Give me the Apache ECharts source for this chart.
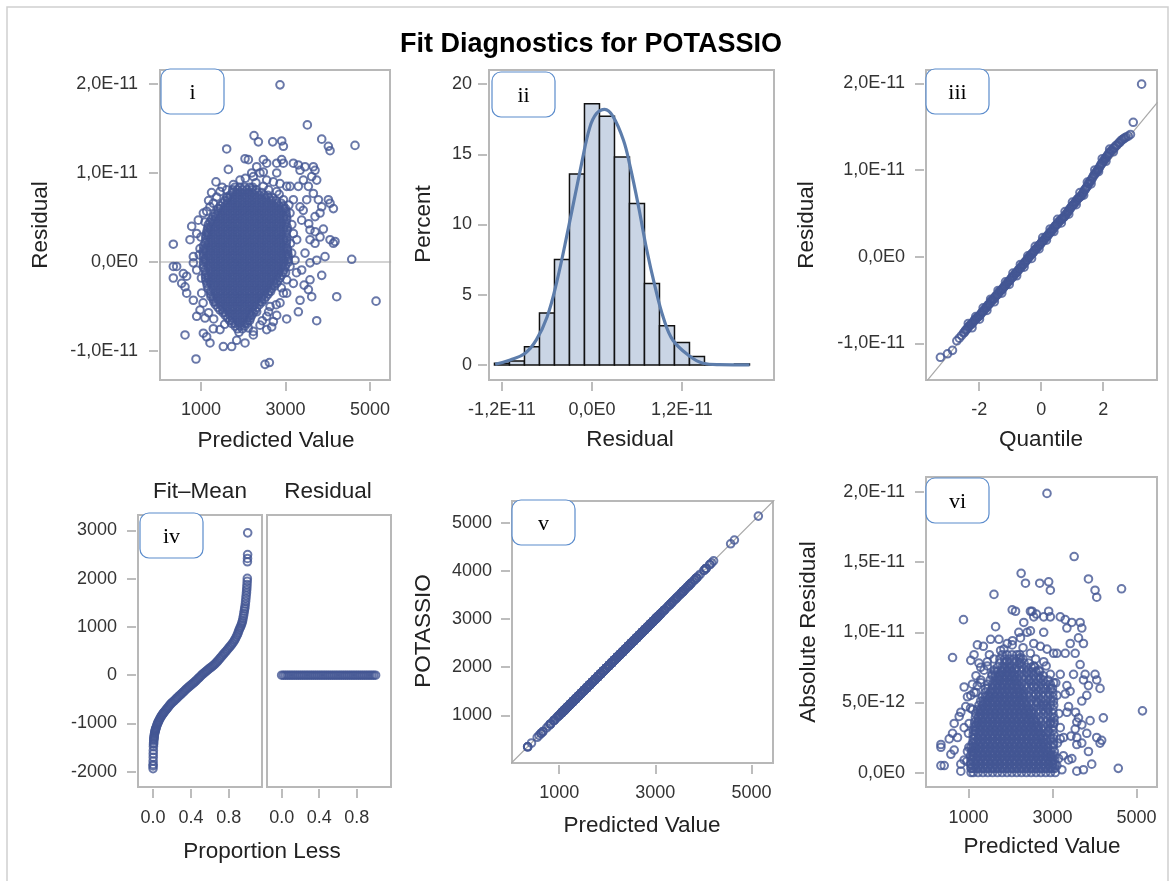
<!DOCTYPE html>
<html>
<head>
<meta charset="utf-8">
<script src="https://cdn.jsdelivr.net/npm/echarts@6/dist/echarts.min.js"></script>
<style>
html,body{margin:0;padding:0;background:#fff;}
#chart{width:1175px;height:881px;}
</style>
</head>
<body>
<div id="chart"></div>
<script>
// ---------------- DATA (residuals stored in units of 1E-12) ----------------
// Panel i: dense core rows (residual level -> predicted values)
const coreResidLevels = [8.4, 8.1, 7.8, 7.5, 7.2, 6.9, 6.6, 6.3, 6.0, 5.7, 5.4, 5.1, 4.8, 4.5, 4.2, 3.9, 3.6, 3.3,
  3.0, 2.7, 2.4, 2.1, 1.8, 1.5, 1.2, 0.9, 0.6, 0.3, 0.0, -0.3, -0.6, -0.9, -1.2, -1.5, -1.8, -2.1, -2.4, -2.7,
  -3.0, -3.3, -3.6, -3.9, -4.2, -4.5, -4.8, -5.1, -5.4, -5.7, -6.0, -6.3, -6.6, -6.9, -7.2, -7.5];
const corePredictedRows = [
  [1805, 1918, 2036, 2152, 2222],
  [1749, 1860, 1978, 2090, 2208, 2298],
  [1745, 1864, 1975, 2094, 2205, 2324, 2436],
  [1688, 1807, 1918, 2036, 2148, 2267, 2378, 2497, 2580],
  [1622, 1690, 1806, 1918, 2037, 2148, 2266, 2378, 2497, 2608, 2700],
  [1565, 1633, 1745, 1864, 1975, 2093, 2206, 2321, 2438, 2551, 2669, 2780],
  [1517, 1634, 1745, 1863, 1976, 2093, 2205, 2323, 2436, 2554, 2665, 2783, 2896],
  [1458, 1577, 1689, 1807, 1918, 2037, 2149, 2266, 2379, 2497, 2608, 2727, 2838, 2950],
  [1405, 1462, 1574, 1692, 1804, 1921, 2034, 2152, 2263, 2381, 2494, 2612, 2724, 2842, 2954, 3000],
  [1400, 1519, 1630, 1749, 1860, 1979, 2090, 2209, 2320, 2439, 2550, 2669, 2780, 2899, 3010],
  [1330, 1403, 1516, 1633, 1746, 1864, 1975, 2094, 2206, 2324, 2435, 2553, 2666, 2783, 2895, 3012],
  [1290, 1347, 1458, 1577, 1688, 1807, 1918, 2037, 2148, 2267, 2378, 2497, 2608, 2727, 2838, 2957, 3025],
  [1250, 1344, 1462, 1574, 1692, 1803, 1922, 2034, 2151, 2264, 2382, 2493, 2611, 2723, 2841, 2953, 3030],
  [1215, 1289, 1400, 1519, 1630, 1749, 1860, 1979, 2090, 2209, 2320, 2439, 2550, 2669, 2780, 2899, 3010],
  [1173, 1286, 1404, 1516, 1634, 1745, 1863, 1976, 2093, 2206, 2323, 2436, 2553, 2665, 2784, 2896, 3013],
  [1165, 1232, 1343, 1462, 1573, 1692, 1803, 1922, 2033, 2152, 2263, 2382, 2493, 2612, 2723, 2842, 2953, 3040],
  [1150, 1231, 1343, 1461, 1573, 1691, 1804, 1921, 2033, 2152, 2264, 2381, 2494, 2612, 2723, 2842, 2953, 3040],
  [1135, 1174, 1285, 1404, 1515, 1634, 1745, 1864, 1975, 2094, 2205, 2324, 2435, 2554, 2665, 2784, 2895, 3014],
  [1115, 1171, 1288, 1401, 1518, 1631, 1748, 1861, 1978, 2091, 2208, 2321, 2438, 2551, 2668, 2781, 2898, 3011],
  [1113, 1232, 1343, 1462, 1573, 1692, 1803, 1922, 2033, 2152, 2263, 2382, 2493, 2612, 2723, 2842, 2953, 3035],
  [1114, 1232, 1344, 1462, 1573, 1691, 1803, 1922, 2034, 2151, 2263, 2382, 2493, 2611, 2724, 2841, 2954, 3030],
  [1095, 1174, 1285, 1404, 1515, 1634, 1745, 1864, 1975, 2094, 2205, 2324, 2435, 2554, 2665, 2784, 2895, 3014],
  [1058, 1173, 1286, 1403, 1516, 1633, 1746, 1863, 1976, 2093, 2206, 2323, 2436, 2553, 2666, 2783, 2896, 3013],
  [1075, 1117, 1228, 1347, 1458, 1577, 1688, 1807, 1918, 2037, 2148, 2267, 2378, 2497, 2608, 2727, 2838, 2957, 3045],
  [1050, 1116, 1229, 1346, 1459, 1576, 1689, 1806, 1919, 2036, 2149, 2266, 2379, 2496, 2609, 2726, 2839, 2956, 3050],
  [1059, 1170, 1289, 1400, 1519, 1630, 1749, 1860, 1979, 2090, 2209, 2320, 2439, 2550, 2669, 2780, 2899, 3010, 3055],
  [1056, 1172, 1288, 1401, 1518, 1631, 1748, 1861, 1978, 2091, 2208, 2321, 2438, 2551, 2668, 2781, 2898, 3011, 3065],
  [1075, 1117, 1228, 1347, 1458, 1577, 1688, 1807, 1918, 2037, 2148, 2267, 2378, 2497, 2608, 2727, 2838, 2957, 3060],
  [1062, 1115, 1231, 1344, 1461, 1574, 1691, 1804, 1921, 2034, 2151, 2264, 2381, 2494, 2611, 2724, 2841, 2954, 3068],
  [1059, 1170, 1289, 1400, 1519, 1630, 1749, 1860, 1979, 2090, 2209, 2320, 2439, 2550, 2669, 2780, 2899, 3010],
  [1058, 1171, 1287, 1402, 1517, 1632, 1747, 1862, 1977, 2092, 2207, 2322, 2437, 2552, 2667, 2782, 2897, 2990],
  [1100, 1228, 1347, 1458, 1577, 1688, 1807, 1918, 2037, 2148, 2267, 2378, 2497, 2608, 2727, 2838, 2957],
  [1116, 1230, 1345, 1460, 1575, 1690, 1805, 1920, 2035, 2150, 2265, 2380, 2495, 2610, 2725, 2840, 2940],
  [1105, 1170, 1289, 1400, 1519, 1630, 1749, 1860, 1979, 2090, 2209, 2320, 2439, 2550, 2669, 2780, 2899],
  [1110, 1172, 1287, 1402, 1517, 1632, 1747, 1862, 1977, 2092, 2207, 2322, 2437, 2552, 2667, 2782, 2870],
  [1120, 1228, 1347, 1458, 1577, 1688, 1807, 1918, 2037, 2148, 2267, 2378, 2497, 2608, 2727, 2820],
  [1140, 1230, 1345, 1460, 1575, 1690, 1805, 1920, 2035, 2150, 2265, 2380, 2495, 2610, 2725, 2790],
  [1150, 1289, 1400, 1519, 1630, 1749, 1860, 1979, 2090, 2209, 2320, 2439, 2550, 2669, 2740],
  [1172, 1287, 1402, 1517, 1632, 1747, 1862, 1977, 2092, 2207, 2322, 2437, 2552, 2667],
  [1228, 1347, 1458, 1577, 1688, 1807, 1918, 2037, 2148, 2267, 2378, 2497, 2608, 2650],
  [1230, 1345, 1460, 1575, 1690, 1805, 1920, 2035, 2150, 2265, 2380, 2495, 2590],
  [1235, 1289, 1400, 1519, 1630, 1749, 1860, 1979, 2090, 2209, 2320, 2439, 2540],
  [1287, 1402, 1517, 1632, 1747, 1862, 1977, 2092, 2207, 2322, 2437, 2500],
  [1305, 1347, 1458, 1577, 1688, 1807, 1918, 2037, 2148, 2267, 2378, 2440],
  [1345, 1460, 1575, 1690, 1805, 1920, 2035, 2150, 2265, 2380],
  [1400, 1519, 1630, 1749, 1860, 1979, 2090, 2209, 2320],
  [1450, 1517, 1632, 1747, 1862, 1977, 2092, 2207, 2290],
  [1520, 1577, 1688, 1807, 1918, 2037, 2148, 2240],
  [1575, 1690, 1805, 1920, 2035, 2150, 2200],
  [1632, 1749, 1860, 1979, 2090, 2170],
  [1680, 1747, 1862, 1977, 2092, 2150],
  [1725, 1807, 1918, 2035, 2095],
  [1805, 1920, 2035],
  [1862, 1977]
];
// Panel i: individual points around the core [predicted, residual]
const outerPoints = [
  [2870,19.9],[3517,15.4],[2255,14.2],[2358,13.5],[2697,13.5],[2910,13.6],[2950,13.0],[3857,13.8],
  [4014,13.0],[4054,12.5],[4645,13.1],[1608,12.7],[1647,10.4],[1355,9.0],
  [2042,11.6],[2121,11.5],[2476,11.5],[2555,11.1],[2792,11.1],[2910,11.5],[2950,11.1],
  [2200,10.0],[2476,10.1],[2792,10.0],[2318,10.7],
  [3186,11.1],[3304,10.9],[3344,10.3],[3462,10.7],[3659,10.7],[3699,10.3],[3738,9.2],[3620,9.6],
  [1450,7.9],[1608,7.3],[345,2.0],[780,4.0],[1056,5.5],[1292,6.6],
  [3659,7.7],[3778,7.0],[4014,7.0],[4133,6.0],[4054,6.6],[3857,6.2],[3699,5.1],[3896,3.7],[3580,3.6],
  [3817,2.8],[3699,2.1],[4054,2.5],[4133,2.1],[4172,2.3],[4567,0.3],[3935,0.6],[3738,0.2],[3580,-0.1],
  [3857,-1.5],[3580,-2.0],[3541,-3.1],[3344,-4.3],[3304,-5.6],[3738,-6.6],[3028,-6.4],[4212,-3.9],[5143,-4.4],
  [2792,-6.0],[2713,-6.7],[2673,-7.3],[2555,-7.6],[2239,-7.8],[2239,-8.2],
  [2042,-9.1],[1845,-8.8],[1726,-9.5],[1529,-9.5],[1213,-9.1],[1056,-8.0],[1134,-8.4],[622,-8.2],
  [882,-10.9],[2515,-11.5],[2618,-11.3],
  [345,-0.5],[345,-1.8],[424,-0.5],
  [582,-1.3],[622,-2.8],[661,-3.5],[819,-4.3],[977,-5.4],[898,-6.1],[1095,-6.3],[1292,-7.5],[1450,-7.6],
  [543,-2.4],[661,-1.6],[819,0.6],[819,-0.1],[740,2.5],[898,3.2],[937,4.7],[1135,5.7],[1095,4.5],
  [977,1.5],[898,-0.9],[1016,-3.5],
  [3107,5.5],[3186,3.2],[3146,1.0],[3107,-0.5],[3028,-2.0],[2950,-3.5],[2870,-4.6],[3186,7.0],
  [3304,8.5],[3423,9.2],[3107,8.5],[3344,6.2],[3383,4.7],[3265,2.5],[3225,0.2],[3502,7.0],[3541,8.5],
  [3817,5.5],[3580,2.5],[3462,1.0],[3383,-0.9],[3186,-2.4],[3028,-3.5],[2555,-6.1],[2397,-7.1],
  [2318,-5.6],[2634,-5.0],
  [1924,9.2],[1766,8.7],[1608,8.1],[2239,9.6],[2397,10.0],[2555,9.2],[2713,9.0],[2870,8.8],[3028,8.5],
  [2476,8.5],[2792,7.9],[2950,7.0],[1371,7.3],[1213,6.2],
  [1000,2.8],[960,0.8],[1010,-1.8],[1050,-4.6],[1180,-5.7],[1300,-6.4],[1560,-7.0],[1900,-7.9],
  [2120,-7.4],[2450,-6.6],[2600,-5.6],[2780,-4.8],[2900,-2.9],[3000,-1.2],[3120,2.1],[3150,4.2],
  [3080,6.4],[2850,7.6],[2600,8.1],[2300,8.9],[2050,9.4],[1500,8.4],[1250,7.8],[1180,6.9],
  [3260,-1.2],[3440,-2.6],[3620,-3.9],[3420,5.8],[3550,4.3],[3700,3.4]
];

// Panel ii: histogram of residuals
const binEdges = [-13, -11, -9, -7, -5, -3, -1, 1, 3, 5, 7, 9, 11, 13, 15, 17, 19, 21];
const binPercents = [0.12, 0.29, 1.3, 3.7, 7.5, 13.6, 18.6, 17.7, 14.8, 11.5, 5.8, 2.8, 1.6, 0.6, 0, 0, 0.07];
const normalCurve = [
  [-12.9,0.05],[-10.9,0.36],[-8.9,0.84],[-7.4,1.8],[-6.0,3.4],[-4.7,5.9],[-3.2,9.6],[-1.4,14.3],
  [-0.3,16.9],[0.6,17.9],[1.7,18.2],[2.8,17.7],[4.2,16.0],[5.1,14.1],[6.2,11.3],[7.3,8.2],
  [8.4,5.6],[9.5,3.4],[10.8,1.76],[13.1,0.6],[14.8,0.12],[17.0,0.02],[21.0,0.0]
];

// Panel iii: Q-Q plot [quantile, residual]
const qqPoints = [
  [-3.25,-11.6],[-3.02,-11.2],[-2.86,-10.8],[-2.72,-9.7],[-2.64,-9.4],[-2.57,-9.1],[-2.5,-8.8],[-2.44,-8.5],
  [-2.38,-8.3],[-2.32,-8.0],[-2.26,-7.8],[-2.2,-7.6],[-2.14,-7.3],[-2.08,-7.1],[-2.02,-6.9],[-1.96,-6.7],
  [-1.9,-6.4],[-1.84,-6.2],[-1.78,-5.9],[-1.72,-5.6],[-1.66,-5.4],[-1.6,-5.1],[-1.54,-4.9],[-1.48,-4.6],
  [-1.42,-4.4],[-1.36,-4.1],[-1.3,-3.9],[-1.24,-3.7],[-1.18,-3.4],[-1.12,-3.2],[-1.06,-2.9],[-1.0,-2.7],
  [-0.94,-2.4],[-0.88,-2.2],[-0.82,-1.9],[-0.76,-1.7],[-0.7,-1.4],[-0.64,-1.2],[-0.58,-0.9],[-0.52,-0.6],
  [-0.46,-0.4],[-0.4,-0.1],[-0.34,0.2],[-0.28,0.4],[-0.22,0.7],[-0.16,0.9],[-0.1,1.2],[-0.04,1.4],
  [0.02,1.7],[0.08,1.9],[0.14,2.2],[0.2,2.4],[0.26,2.7],[0.32,2.9],[0.38,3.2],[0.44,3.5],[0.5,3.7],
  [0.56,4.0],[0.62,4.2],[0.68,4.4],[0.74,4.6],[0.8,4.9],[0.86,5.2],[0.92,5.5],[0.98,5.8],[1.04,6.0],
  [1.1,6.3],[1.16,6.6],[1.22,6.8],[1.28,7.0],[1.34,7.3],[1.4,7.7],[1.46,8.0],[1.52,8.4],[1.58,8.7],
  [1.64,9.0],[1.7,9.4],[1.76,9.7],[1.82,10.0],[1.88,10.3],[1.94,10.7],[2.0,11.0],[2.06,11.3],[2.12,11.6],
  [2.18,11.9],[2.25,12.2],[2.33,12.5],[2.41,12.8],[2.5,13.1],[2.58,13.4],[2.66,13.6],[2.74,13.8],
  [2.81,13.9],[2.88,14.1],[2.97,15.5],[3.24,19.9],
  [-2.35,-7.7],[-2.23,-8.2],[-2.11,-6.9],[-1.99,-7.2],[-1.87,-5.9],[-1.75,-6.2],[-1.63,-4.9],[-1.51,-5.2],
  [-1.39,-3.9],[-1.27,-4.2],[-1.15,-2.9],[-1.03,-3.2],[-0.91,-1.9],[-0.79,-2.2],[-0.67,-0.9],[-0.55,-1.2],
  [-0.43,0.1],[-0.31,-0.2],[-0.19,1.2],[-0.07,0.9],[0.05,2.2],[0.17,1.9],[0.29,3.2],[0.41,2.9],
  [0.53,4.3],[0.65,3.9],[0.77,5.2],[0.89,4.9],[1.01,6.3],[1.13,6.0],[1.25,7.4],[1.37,7.1],
  [1.49,8.6],[1.61,8.4],[1.73,10.0],[1.85,9.8],[1.97,11.3],[2.09,11.0],[2.21,12.4],[2.33,12.1],
  [-2.47,-8.7],[-2.41,-8.4],[-2.35,-8.1],[-2.29,-7.9],[-2.23,-7.7],[-2.17,-7.4],[-2.11,-7.2],[-2.05,-7.0],
  [-1.99,-6.8],[-1.93,-6.5],[-1.87,-6.3],[-1.81,-6.0],[-1.75,-5.8],[-1.69,-5.5],[-1.63,-5.2],[-1.57,-5.0],
  [-1.51,-4.8],[-1.45,-4.5],[-1.39,-4.3],[-1.33,-4.0],[-1.27,-3.8],[-1.21,-3.5],[-1.15,-3.3],[-1.09,-3.0],
  [-1.03,-2.8],[-0.97,-2.5],[-0.91,-2.3],[-0.85,-2.0],[-0.79,-1.8],[-0.73,-1.5],[-0.67,-1.3],[-0.61,-1.0],
  [-0.55,-0.8],[-0.49,-0.5],[-0.43,-0.2],[-0.37,0.0],[-0.31,0.3],[-0.25,0.5],[-0.19,0.8],[-0.13,1.0],
  [-0.07,1.3],[-0.01,1.5],[0.05,1.8],[0.11,2.0],[0.17,2.3],[0.23,2.5],[0.29,2.8],[0.35,3.0],[0.41,3.3],
  [0.47,3.6],[0.53,3.8],[0.59,4.1],[0.65,4.3],[0.71,4.5],[0.77,4.7],[0.83,5.0],[0.89,5.3],[0.95,5.6],
  [1.01,5.9],[1.07,6.1],[1.13,6.4],[1.19,6.7],[1.25,6.9],[1.31,7.1],[1.37,7.5],[1.43,7.8],[1.49,8.1],
  [1.55,8.5],[1.61,8.8],[1.67,9.2],[1.73,9.5],[1.79,9.8],[1.85,10.1],[1.91,10.5],[1.97,10.8],[2.03,11.1],
  [2.09,11.4],[2.15,11.7],[2.21,12.0],[2.29,12.3],[2.37,12.6],[2.45,12.9],[2.54,13.2],[2.62,13.5],[2.70,13.7]
];
const qqRefLine = [[-3.75,-14.6],[3.75,17.8]];

// Panel iv: spread plot [proportion less, value]
const fitMeanPoints = [
  [0.000,-1936],[0.000,-1880],[0.001,-1850],[0.001,-1780],[0.002,-1700],[0.002,-1630],[0.003,-1560],
  [0.004,-1480],[0.005,-1430],[0.006,-1400],[0.007,-1360],[0.008,-1330],[0.010,-1300],[0.011,-1280],
  [0.013,-1250],[0.015,-1220],[0.018,-1195],[0.020,-1170],[0.023,-1150],[0.025,-1130],[0.028,-1115],
  [0.030,-1100],[0.035,-1070],[0.040,-1040],[0.045,-1015],[0.050,-990],[0.055,-968],[0.060,-945],
  [0.068,-918],[0.075,-890],[0.082,-865],[0.090,-840],[0.098,-818],[0.105,-795],[0.112,-778],
  [0.120,-760],[0.130,-735],[0.140,-710],[0.150,-685],[0.160,-660],[0.170,-635],[0.180,-610],
  [0.190,-590],[0.200,-570],[0.212,-548],[0.225,-525],[0.237,-502],[0.250,-478],[0.262,-455],
  [0.275,-430],[0.287,-408],[0.300,-385],[0.312,-362],[0.325,-340],[0.337,-315],[0.350,-290],
  [0.362,-268],[0.375,-245],[0.387,-225],[0.400,-205],[0.412,-185],[0.425,-165],[0.437,-143],
  [0.450,-120],[0.462,-96],[0.475,-72],[0.487,-48],[0.500,-24],[0.512,0],[0.525,25],[0.537,45],
  [0.550,65],[0.562,85],[0.575,105],[0.587,125],[0.600,145],[0.612,165],[0.625,185],[0.637,205],
  [0.650,225],[0.662,250],[0.675,275],[0.687,305],[0.700,335],[0.712,362],[0.725,390],[0.737,420],
  [0.750,450],[0.762,478],[0.775,505],[0.787,535],[0.800,565],[0.812,595],[0.825,625],[0.837,657],
  [0.850,690],[0.860,725],[0.870,760],[0.880,800],[0.890,840],[0.898,880],[0.905,920],[0.912,955],
  [0.920,990],[0.928,1025],[0.935,1060],[0.940,1095],[0.945,1130],[0.950,1180],[0.955,1230],
  [0.959,1280],[0.963,1330],[0.967,1375],[0.970,1418],[0.974,1475],[0.977,1530],[0.980,1590],
  [0.983,1650],[0.986,1710],[0.988,1764],[0.990,1820],[0.992,1880],[0.994,1945],[0.995,2006],
  [0.996,2350],[0.997,2420],[0.998,2500],[0.999,2950]
];
const residSpreadPoints = [
  [0.00,0],[0.02,0],[0.04,0],[0.06,0],[0.08,0],[0.10,0],[0.12,0],[0.14,0],[0.16,0],[0.18,0],
  [0.20,0],[0.22,0],[0.24,0],[0.26,0],[0.28,0],[0.30,0],[0.32,0],[0.34,0],[0.36,0],[0.38,0],
  [0.40,0],[0.42,0],[0.44,0],[0.46,0],[0.48,0],[0.50,0],[0.52,0],[0.54,0],[0.56,0],[0.58,0],
  [0.60,0],[0.62,0],[0.64,0],[0.66,0],[0.68,0],[0.70,0],[0.72,0],[0.74,0],[0.76,0],[0.78,0],
  [0.80,0],[0.82,0],[0.84,0],[0.86,0],[0.88,0],[0.90,0],[0.92,0],[0.94,0],[0.96,0],[0.98,0],[1.00,0]
];

// Tick labels
const ticksResidI = [-10, 0, 10, 20];
const ticksPredicted = [1000, 3000, 5000];
const ticksPercent = [0, 5, 10, 15, 20];
const ticksResidHist = [-12, 0, 12];
const ticksQuantile = [-2, 0, 2];
const ticksSpreadY = [-2000, -1000, 0, 1000, 2000, 3000];
const ticksProportion = [0, 0.4, 0.8];
const ticksPotassio = [1000, 2000, 3000, 4000, 5000];
const ticksAbsResid = [0, 5, 10, 15, 20];

// ---------------- derived series ----------------
const fitResid = [];
coreResidLevels.forEach((r, i) => corePredictedRows[i].forEach(p => fitResid.push([p, r])));
outerPoints.forEach(pt => fitResid.push(pt));
const absResid = fitResid.map(([p, r]) => [p, Math.abs(r)]);
const observedVsPred = fitResid.map(([p, r]) => [p, p + r * 1e-12]);
const histData = binPercents.map((v, i) => [binEdges[i], binEdges[i + 1], v]);

// ---------------- styling ----------------
const FONT = 'Liberation Sans, Arial, Helvetica, sans-serif';
const MARK = '#445694';
const TICKFONT = 18;
function sciLabel(v) {
  if (Math.abs(v) < 1e-9) return '0,0E0';
  const e = Math.floor(Math.log10(Math.abs(v)) + 1e-9);
  const m = v / Math.pow(10, e);
  return m.toFixed(1).replace('.', ',') + 'E' + (e - 12);
}
function axis(gridIndex, min, max, ticks, fmt, margin, showLabels) {
  return {
    type: 'value', gridIndex, min, max, offset: 2,
    axisLine: { show: false, onZero: false },
    splitLine: { show: false },
    axisTick: { show: showLabels !== false, length: 9, customValues: ticks, lineStyle: { color: '#a8a8a8', width: 1.5 } },
    axisLabel: { show: showLabels !== false, customValues: ticks, formatter: fmt, margin,
      fontSize: TICKFONT, color: '#333', fontFamily: FONT }
  };
}
const plain = v => String(v);
const fix1 = v => v.toFixed(1);
const gridBase = { show: true, borderColor: '#b8b8b8', borderWidth: 2, backgroundColor: 'transparent', containLabel: false, outerBoundsMode: 'none' };
const grids = [
  { left: 160, top: 70, width: 230, height: 310 },   // i
  { left: 489, top: 70, width: 285, height: 310 },   // ii
  { left: 926, top: 70, width: 231, height: 310 },   // iii
  { left: 138, top: 515, width: 124, height: 272 },  // iv left
  { left: 267, top: 515, width: 124, height: 272 },  // iv right
  { left: 512, top: 501, width: 261, height: 262 },  // v
  { left: 926, top: 477, width: 231, height: 310 }   // vi
].map(g => Object.assign({}, gridBase, g));

const xAxes = [
  axis(0, 30, 5473, ticksPredicted, plain, 19),
  axis(1, -13.73, 24.27, ticksResidHist, sciLabel, 19),
  axis(2, -3.714, 3.736, ticksQuantile, plain, 19),
  axis(3, -0.159, 1.15, ticksProportion, fix1, 20),
  axis(4, -0.156, 1.164, ticksProportion, fix1, 20),
  axis(5, 19, 5448, ticksPredicted, plain, 19),
  axis(6, -10, 5489, ticksPredicted, plain, 20)
].map(a => Object.assign(a, { position: 'bottom' }));
const yAxes = [
  axis(0, -13.26, 21.57, ticksResidI, sciLabel, 20),
  axis(1, -1.07, 21, ticksPercent, plain, 15),
  axis(2, -14.22, 21.53, ticksResidI, sciLabel, 19),
  axis(3, -2317, 3320, ticksSpreadY, plain, 19),
  axis(4, -2317, 3320, ticksSpreadY, plain, 19, false),
  axis(5, 8, 5457, ticksPotassio, plain, 18),
  axis(6, -1.03, 21.07, ticksAbsResid, sciLabel, 19)
].map(a => Object.assign(a, { position: 'left' }));

const ringStyle = { color: 'rgba(0,0,0,0)', borderColor: MARK, borderWidth: 2 };
function scatter(idx, data) {
  return { type: 'scatter', xAxisIndex: idx, yAxisIndex: idx, data, symbol: 'circle', symbolSize: 7.6,
    itemStyle: ringStyle, silent: true, z: 3, large: false };
}
function refLine(idx, data) {
  return { type: 'line', xAxisIndex: idx, yAxisIndex: idx, data, showSymbol: false, silent: true, clip: true,
    lineStyle: { color: '#a8a8a8', width: 1.2 }, z: 2 };
}

// text helpers
const titleTexts = [
  ['Residual', 41, 225, true], ['Predicted Value', 276, 441, false],
  ['Percent', 424, 224, true], ['Residual', 630, 440, false],
  ['Residual', 807, 225, true], ['Quantile', 1041, 440, false],
  ['Fit\u2013Mean', 200, 492, false], ['Residual', 328, 492, false],
  ['Proportion Less', 262, 852, false],
  ['POTASSIO', 424, 631, true], ['Predicted Value', 642, 826, false],
  ['Absolute Residual', 809, 632, true], ['Predicted Value', 1042, 847, false]
];
const panelTags = [
  ['i', 161, 69], ['ii', 492, 72], ['iii', 926, 69], ['iv', 140, 513], ['v', 512, 500], ['vi', 926, 478]
];
const graphics = [
  { type: 'rect', shape: { x: 7, y: 7, width: 1161, height: 880 }, style: { fill: 'none', stroke: '#d0d0d0', lineWidth: 1.5 }, z: 0, silent: true },
  { type: 'text', x: 591, y: 45, style: { text: 'Fit Diagnostics for POTASSIO', font: 'bold 27px ' + FONT, fill: '#000', textAlign: 'center', textVerticalAlign: 'middle' }, z: 10 }
];
titleTexts.forEach(([t, x, y, rot]) => graphics.push({
  type: 'text', x, y, rotation: rot ? Math.PI / 2 : 0,
  style: { text: t, font: '22.5px ' + FONT, fill: '#222', textAlign: 'center', textVerticalAlign: 'middle' }, z: 10
}));
panelTags.forEach(([t, x, y]) => {
  graphics.push({ type: 'rect', shape: { x, y, width: 63, height: 45, r: 9 },
    style: { fill: '#fff', stroke: '#5b8ccc', lineWidth: 1.2 }, z: 20 });
  graphics.push({ type: 'text', x: x + 31.5, y: y + 24,
    style: { text: t, font: '22px Liberation Serif, DejaVu Serif, serif', fill: '#000', textAlign: 'center', textVerticalAlign: 'middle' }, z: 21 });
});

const chart = echarts.init(document.getElementById('chart'), null, { renderer: 'canvas' });
chart.setOption({
  animation: false,
  backgroundColor: '#fff',
  grid: grids,
  xAxis: xAxes,
  yAxis: yAxes,
  graphic: graphics,
  series: [
    refLine(0, [[0, 0], [5500, 0]]),
    scatter(0, fitResid),
    {
      type: 'custom', xAxisIndex: 1, yAxisIndex: 1, data: histData, silent: true, z: 2,
      renderItem: function (params, api) {
        const p0 = api.coord([api.value(0), 0]);
        const p1 = api.coord([api.value(1), api.value(2)]);
        return { type: 'rect', shape: { x: p0[0], y: p1[1], width: p1[0] - p0[0], height: p0[1] - p1[1] },
          style: { fill: '#cad5e5', stroke: '#111', lineWidth: 1.5 } };
      }
    },
    { type: 'line', xAxisIndex: 1, yAxisIndex: 1, data: normalCurve, smooth: 0.4, showSymbol: false, silent: true,
      lineStyle: { color: '#5d7dab', width: 3.2 }, z: 4 },
    refLine(2, qqRefLine),
    scatter(2, qqPoints),
    scatter(3, fitMeanPoints),
    scatter(4, residSpreadPoints),
    refLine(5, [[0, 0], [5500, 5500]]),
    scatter(5, observedVsPred),
    scatter(6, absResid)
  ]
});
</script>
</body>
</html>
